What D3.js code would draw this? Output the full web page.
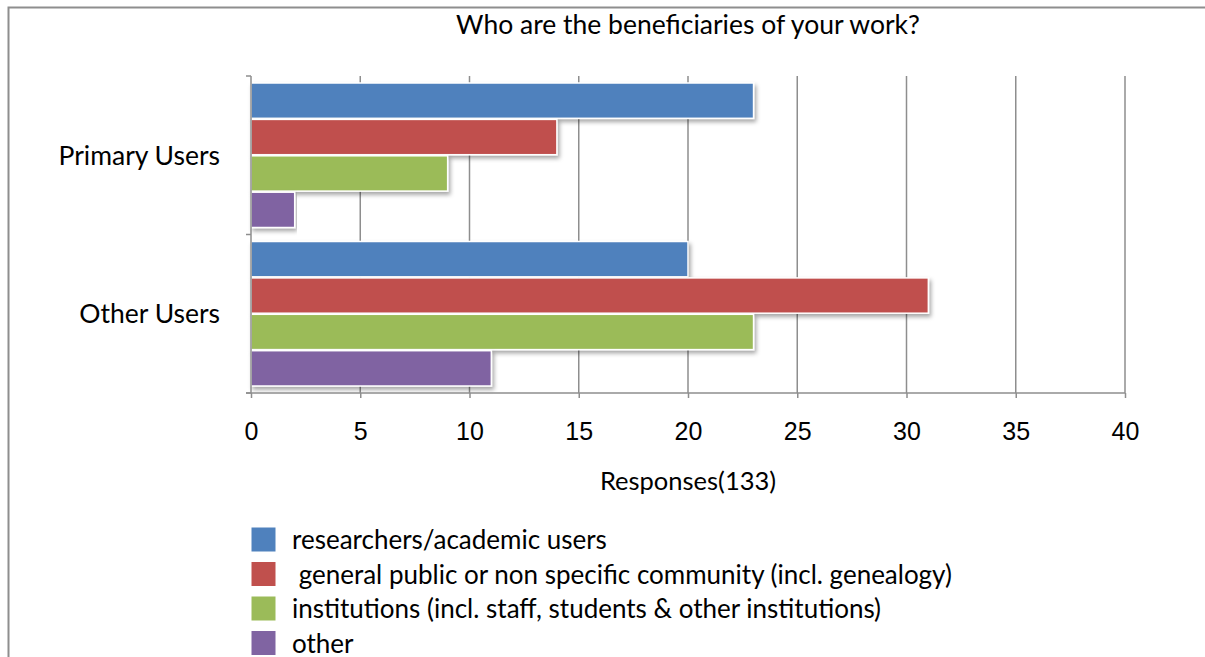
<!DOCTYPE html>
<meta charset="utf-8">
<style>
body { margin: 0; background: #fff; }
svg { font-family: Lato, "Open Sans", sans-serif; }
.grid line { stroke: #8e8e8e; stroke-width: 1.5; }
.axis path, .axis line { stroke: #8e8e8e; stroke-width: 1.5; }
.axis text { fill: #000; font-size: 25px; }
.axis text.cat { font-size: 26.5px; }
</style>
<svg width="1205" height="657"></svg>
<script src="https://cdnjs.cloudflare.com/ajax/libs/d3/7.8.5/d3.min.js"></script>
<script>

var categories = ["Primary Users", "Other Users"];
var seriesNames = ["researchers/academic users",
                   " general public or non specific community (incl. genealogy)",
                   "institutions (incl. staff, students & other institutions)",
                   "other"];
var researchers = [23, 20],
    generalPublic = [14, 31],
    institutions = [9, 23],
    other = [2, 11];
var xTicks = [0, 5, 10, 15, 20, 25, 30, 35, 40];
var colors = ["#4f81bd", "#c0504d", "#9bbb59", "#8064a2"];

var svg = d3.select("svg");
var plotLeft = 251, plotRight = 1125, plotTop = 76, plotBottom = 393;

var seriesValues = [researchers, generalPublic, institutions, other];
var data = categories.map(function(c, i) {
  return {category: c, values: seriesValues.map(function(s, j) { return {key: j, value: s[i]}; })};
});

var x = d3.scaleLinear().domain([0, 40]).range([plotLeft, plotRight]);
var y0 = d3.scaleBand().domain(categories).range([plotTop, plotBottom]);
var y1 = d3.scaleBand().domain(d3.range(seriesNames.length))
    .range([7, y0.bandwidth() - 7]).paddingInner(0.03);

// outer frame
svg.append("path")
    .attr("d", "M8.5,657V7.5H1205")
    .attr("fill", "none")
    .attr("stroke", "#8e8e8e")
    .attr("stroke-width", 2);

var defs = svg.append("defs");
var f = defs.append("filter").attr("id", "shadow")
    .attr("x", "-5%").attr("y", "-20%").attr("width", "110%").attr("height", "160%");
f.append("feDropShadow")
    .attr("dx", 2).attr("dy", 3).attr("stdDeviation", 2)
    .attr("flood-color", "#000").attr("flood-opacity", 0.35);

svg.append("text")
    .attr("x", 688)
    .attr("y", 25)
    .attr("dy", "0.35em")
    .attr("text-anchor", "middle")
    .attr("font-size", 26.5)
    .text("Who are the beneficiaries of your work?");

// gridlines
svg.append("g")
    .attr("class", "grid")
  .selectAll("line")
  .data(xTicks.slice(1))
  .enter().append("line")
    .attr("x1", function(d) { return x(d); })
    .attr("x2", function(d) { return x(d); })
    .attr("y1", plotTop)
    .attr("y2", plotBottom);

// bars
svg.append("g")
  .selectAll("g")
  .data(data)
  .enter().append("g")
    .attr("transform", function(d) { return "translate(0," + y0(d.category) + ")"; })
  .selectAll("rect")
  .data(function(d) { return d.values; })
  .enter().append("rect")
    .attr("x", x(0))
    .attr("y", function(d) { return y1(d.key); })
    .attr("width", function(d) { return x(d.value) - x(0); })
    .attr("height", y1.bandwidth())
    .attr("fill", function(d) { return colors[d.key]; })
    .attr("stroke", "#fff")
    .attr("stroke-width", 1.5)
    .attr("filter", "url(#shadow)");

// x axis
var xAxis = svg.append("g")
    .attr("class", "axis")
    .attr("transform", "translate(0," + plotBottom + ")")
    .call(d3.axisBottom(x).tickValues(xTicks).tickSize(5).tickSizeOuter(0));
xAxis.select(".domain").attr("d", "M" + (plotLeft - 5) + ",0H" + plotRight);
xAxis.selectAll("text").attr("y", 38).attr("dy", "0.35em");

// y axis
var yAxis = svg.append("g")
    .attr("class", "axis")
    .attr("transform", "translate(" + plotLeft + ",0)");
yAxis.append("path")
    .attr("d", "M0," + plotTop + "V" + plotBottom)
    .attr("fill", "none");
yAxis.selectAll(".ytick")
  .data([plotTop, plotTop + y0.bandwidth(), plotBottom])
  .enter().append("line")
    .attr("x1", -5).attr("x2", 0)
    .attr("y1", function(d) { return d; })
    .attr("y2", function(d) { return d; });
yAxis.selectAll(".cat")
  .data(categories)
  .enter().append("text")
    .attr("class", "cat")
    .attr("x", -31)
    .attr("y", function(d) { return y0(d) + y0.bandwidth() / 2; })
    .attr("dy", "0.35em")
    .attr("text-anchor", "end")
    .text(function(d) { return d; });

svg.append("text")
    .attr("x", 688)
    .attr("y", 481)
    .attr("dy", "0.35em")
    .attr("text-anchor", "middle")
    .attr("font-size", 25.5)
    .text("Responses(133)");

// legend
var legend = svg.append("g")
  .selectAll("g")
  .data(seriesNames)
  .enter().append("g")
    .attr("transform", function(d, i) { return "translate(251," + (527 + i * 34.5) + ")"; });

legend.append("rect")
    .attr("width", 25)
    .attr("height", 25)
    .attr("fill", function(d, i) { return colors[i]; })
    .attr("stroke", "#fff");

legend.append("text")
    .attr("x", 41)
    .attr("y", 13)
    .attr("dy", "0.35em")
    .attr("font-size", 26)
    .attr("xml:space", "preserve")
    .style("white-space", "pre")
    .text(function(d) { return d; });

</script>
